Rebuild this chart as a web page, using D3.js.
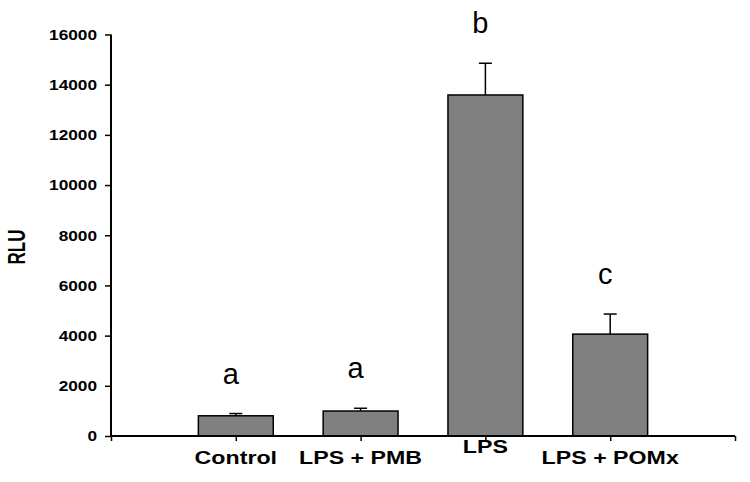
<!DOCTYPE html>
<html>
<head>
<meta charset="utf-8">
<script src="https://cdn.jsdelivr.net/npm/d3@7"></script>
<style>
  html, body { margin: 0; padding: 0; background: #fff; }
  svg { display: block; }
  text { font-family: "Liberation Sans", Arial, sans-serif; }
</style>
</head>
<body>
<svg id="chart" width="750" height="482"></svg>
<script>
// ---- data ----
const categories = ["Control", "LPS + PMB", "LPS", "LPS + POMx"];
const means = [805, 995, 13590, 4060];
const errors = [90, 110, 1265, 800];
const letters = ["a", "a", "b", "c"];
const yTicks = [0, 2000, 4000, 6000, 8000, 10000, 12000, 14000, 16000];
const yLabel = "RLU";

// ---- layout ----
const svg = d3.select("#chart");
const x0 = 111, x1 = 735, yBottom = 436, yTop = 34.5;

const x = d3.scaleLinear().domain([0, categories.length + 1]).range([x0, x1]);
const y = d3.scaleLinear().domain([0, 16000]).range([yBottom, yTop]);
const step = x(1) - x(0);
const barW = step * 0.6;
const stretch = 1.15;

// bars
svg.append("g").selectAll("rect").data(categories).join("rect")
  .attr("x", (d, i) => x(i + 1) - barW / 2)
  .attr("y", (d, i) => y(means[i]))
  .attr("width", barW)
  .attr("height", (d, i) => y(0) - y(means[i]))
  .attr("fill", "#808080")
  .attr("stroke", "#000")
  .attr("stroke-width", 1.5);

// error bars (upper only)
const eb = svg.append("g").attr("stroke", "#000").attr("stroke-width", 1.5);
categories.forEach((c, i) => {
  const cx = x(i + 1);
  eb.append("line").attr("x1", cx).attr("x2", cx)
    .attr("y1", y(means[i])).attr("y2", y(means[i] + errors[i]));
  eb.append("line").attr("x1", cx - 6.5).attr("x2", cx + 6.5)
    .attr("y1", y(means[i] + errors[i])).attr("y2", y(means[i] + errors[i]));
});

// significance letters
svg.append("g").selectAll("text").data(letters).join("text")
  .attr("x", (d, i) => x(i + 1) - 5)
  .attr("y", (d, i) => y(means[i] + errors[i]) - 30)
  .attr("text-anchor", "middle")
  .attr("font-size", 29)
  .attr("fill", "#000")
  .text(d => d);

// y axis
const yAxis = svg.append("g")
  .attr("transform", `translate(${x0},0)`)
  .call(d3.axisLeft(y).tickValues(yTicks).tickSize(6).tickPadding(8).tickFormat(d3.format("d")));
yAxis.select(".domain").attr("stroke-width", 2).attr("d", `M0,${yTop}V${yBottom}`);
yAxis.selectAll(".tick line").attr("stroke-width", 1.5);
yAxis.selectAll(".tick text").each(function() {
  const t = d3.select(this);
  const xx = +t.attr("x");
  t.attr("x", null)
   .attr("transform", `translate(${xx},0) scale(${stretch},1)`)
   .attr("font-size", 15).attr("font-weight", "bold")
   .attr("font-family", "'Liberation Sans', Arial, sans-serif")
   .attr("fill", "#000");
});

// x axis
const xAxis = svg.append("g")
  .attr("transform", `translate(0,${yBottom})`)
  .call(d3.axisBottom(x).tickValues(d3.range(0, categories.length + 2)).tickSize(5).tickFormat(""));
xAxis.select(".domain").attr("stroke-width", 2).attr("d", `M${x0},0H${x1}`);
xAxis.selectAll(".tick line").attr("stroke-width", 1.5);

// category labels
const raised = { "LPS": -11 };
svg.append("g").selectAll("text").data(categories).join("text")
  .attr("transform", (d, i) => `translate(${x(i + 1)},${464 + (raised[d] || 0)}) scale(1.22,1)`)
  .attr("text-anchor", "middle")
  .attr("font-size", 19)
  .attr("font-weight", "bold")
  .attr("fill", "#000")
  .text(d => d);

// y label
svg.append("text")
  .attr("transform", "translate(25,247) rotate(-90) scale(1,1.4)")
  .attr("text-anchor", "middle")
  .attr("font-size", 17)
  .attr("font-weight", "bold")
  .attr("fill", "#000")
  .text(yLabel);
</script>
</body>
</html>
